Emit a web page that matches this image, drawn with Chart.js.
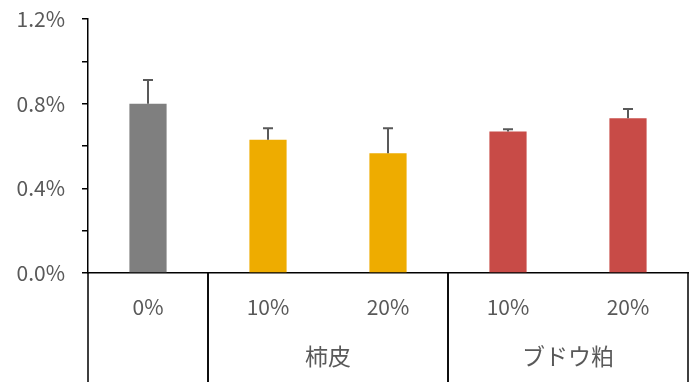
<!DOCTYPE html>
<html>
<head>
  <meta charset="utf-8" />
  <script src="https://cdn.jsdelivr.net/npm/chart.js@4.4.0/dist/chart.umd.min.js"></script>
  <style>
    body { margin:0; background:#fff; }
    #wrap { width:693px; height:382px; }
  </style>
</head>
<body>
<div id="wrap"><canvas id="chart" width="693" height="382"></canvas></div>
<script>
// values in percent
const categories = ['0%', '10%', '20%', '10%', '20%'];
const values     = [0.80, 0.629, 0.566, 0.668, 0.731];
const errPlus    = [0.112, 0.055, 0.118, 0.011, 0.044];
const barColors  = ['#7f7f7f', '#eeac00', '#eeac00', '#c84b47', '#c84b47'];
const groupNames = ['', '柿皮', 'ブドウ粕'];
const groupStart = [0, 1, 3];
const groupEnd   = [0, 2, 4];

const FONT = "'Noto Sans CJK JP', 'Noto Sans', sans-serif";
const TEXT = '#595959';

const errorBars = {
  id: 'errorBars',
  afterDatasetsDraw(chart) {
    const ctx = chart.ctx, x = chart.scales.x, y = chart.scales.y;
    ctx.save();
    ctx.strokeStyle = '#595959';
    ctx.lineWidth = 2;
    values.forEach((v, i) => {
      const px = x.getPixelForValue(i);
      const y0 = y.getPixelForValue(v), y1 = y.getPixelForValue(v + errPlus[i]);
      ctx.beginPath();
      ctx.moveTo(px, y0); ctx.lineTo(px, y1);
      ctx.moveTo(px - 5, y1); ctx.lineTo(px + 5, y1);
      ctx.stroke();
    });
    ctx.restore();
  }
};

const groupAxis = {
  id: 'groupAxis',
  afterDraw(chart) {
    const ctx = chart.ctx, x = chart.scales.x, area = chart.chartArea;
    const half = (x.getPixelForValue(1) - x.getPixelForValue(0)) / 2;
    ctx.save();
    ctx.strokeStyle = '#000';
    ctx.lineWidth = 1.5;
    ctx.fillStyle = TEXT;
    ctx.font = '23px ' + FONT;
    ctx.textAlign = 'center';
    ctx.textBaseline = 'middle';
    groupNames.forEach((name, g) => {
      const left = x.getPixelForValue(groupStart[g]) - half;
      const right = x.getPixelForValue(groupEnd[g]) + half;
      ctx.beginPath();
      ctx.moveTo(left, area.bottom); ctx.lineTo(left, chart.height);
      ctx.moveTo(right, area.bottom); ctx.lineTo(right, chart.height);
      ctx.stroke();
      if (name) ctx.fillText(name, (left + right) / 2, 356);
    });
    ctx.restore();
  }
};

new Chart(document.getElementById('chart'), {
  type: 'bar',
  data: {
    labels: categories,
    datasets: [{ data: values, backgroundColor: barColors, categoryPercentage: 1, barPercentage: 0.31 }]
  },
  options: {
    responsive: false,
    animation: false,
    layout: { padding: { top: 19, right: 5, left: 0, bottom: 0 } },
    plugins: { legend: { display: false }, tooltip: { enabled: false } },
    scales: {
      x: {
        grid: { display: false },
        border: { display: true, color: '#000', width: 1.5 },
        ticks: { color: TEXT, font: { family: FONT, size: 21 }, padding: 13, maxRotation: 0 },
        afterFit: s => { s.height = 109; s.paddingLeft = 0; s.paddingRight = 0; }
      },
      y: {
        min: 0, max: 1.2,
        grid: { display: true, drawOnChartArea: false, drawTicks: true, tickLength: 6, color: '#000', lineWidth: 1.5 },
        border: { display: true, color: '#000', width: 1.5 },
        ticks: {
          stepSize: 0.2, color: TEXT, font: { family: FONT, size: 21 }, padding: 17,
          callback: v => (Math.round(v * 10) % 4 === 0 ? v.toFixed(1) + '%' : '')
        },
        afterFit: s => { s.width = 88; s.paddingTop = 0; s.paddingBottom = 0; }
      }
    }
  },
  plugins: [errorBars, groupAxis]
});
</script>
</body>
</html>
